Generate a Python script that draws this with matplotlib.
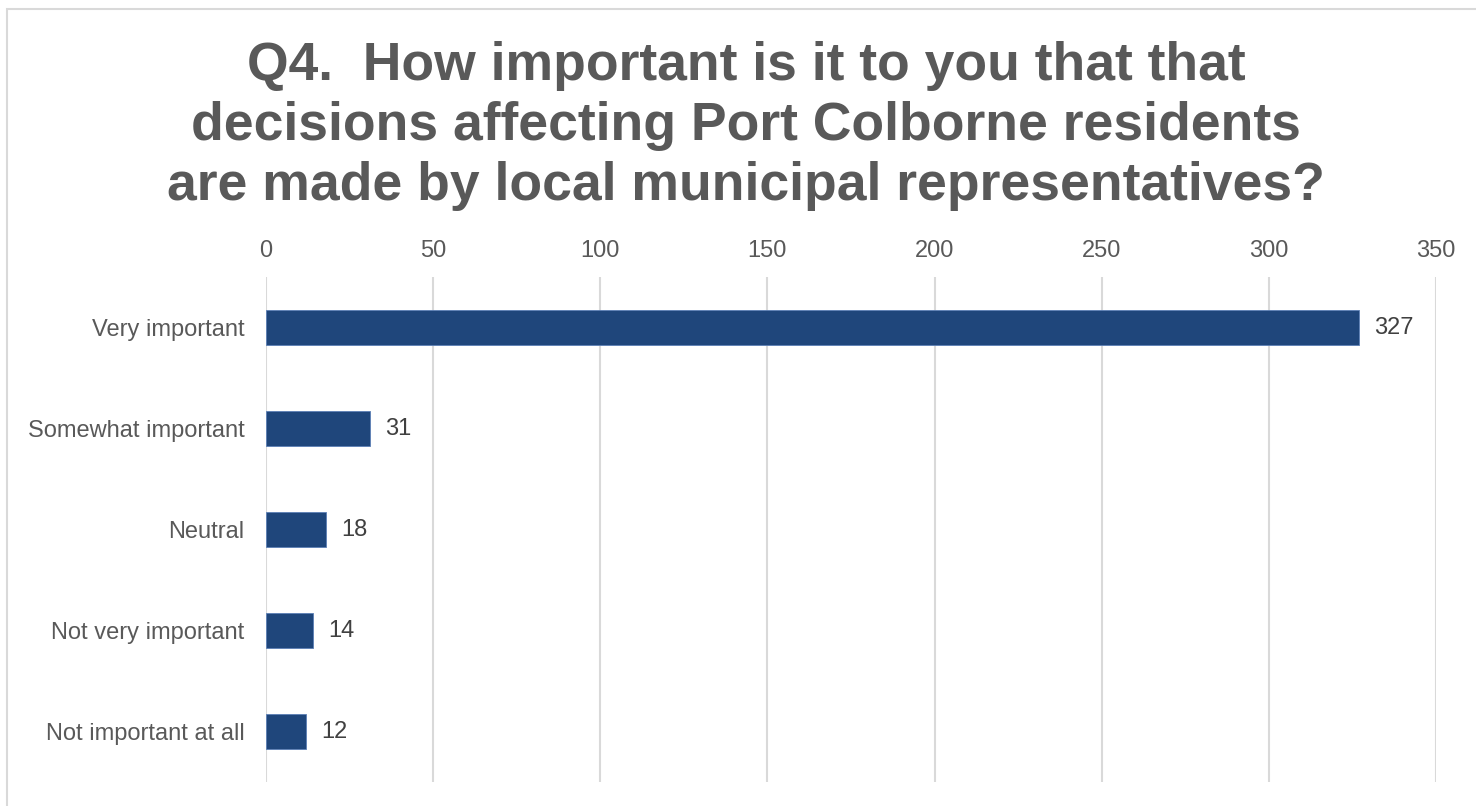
import matplotlib.pyplot as plt
from matplotlib.patches import Rectangle

categories = ["Very important", "Somewhat important", "Neutral",
              "Not very important", "Not important at all"]
counts = [327, 31, 18, 14, 12]
x_ticks = [0, 50, 100, 150, 200, 250, 300, 350]

plt.rcParams["font.family"] = ["Liberation Sans", "DejaVu Sans"]

W, H = 1476, 806
fig = plt.figure(figsize=(W / 100, H / 100), dpi=100)

# outer chart frame (only the left and top edges fall inside the canvas)
fig.patches.append(Rectangle((7 / W, -0.1), 1.2, 1 - 9 / H + 0.1,
                             transform=fig.transFigure, fill=False,
                             edgecolor="#d9d9d9", linewidth=1.5))

ax = fig.add_axes([266 / W, 1 - 782 / H, 1170 / W, 505 / H])

ypos = list(range(len(categories)))
ax.barh(ypos, counts, height=0.35, color="#1f467b",
        edgecolor="#5b7fb5", linewidth=0.6, zorder=3)
for y, v in zip(ypos, counts):
    ax.text(v + 4.5, y, str(v), va="center", ha="left",
            fontsize=17, color="#404040")

ax.set_xlim(0, 350)
ax.set_ylim(len(categories) - 0.5, -0.5)
ax.set_xticks(x_ticks)
ax.xaxis.tick_top()
ax.tick_params(axis="x", length=0, pad=11, labelsize=17, labelcolor="#595959")
ax.set_yticks(ypos)
ax.set_yticklabels(categories)
ax.tick_params(axis="y", length=0, pad=15.5, labelsize=17, labelcolor="#595959")
ax.grid(axis="x", color="#d9d9d9", linewidth=1.5, zorder=0)
for s in ax.spines.values():
    s.set_visible(False)

fig.text(746 / W, 1 - 126 / H,
         "Q4.  How important is it to you that that\n"
         "decisions affecting Port Colborne residents\n"
         "are made by local municipal representatives?",
         ha="center", va="center", fontsize=38.5, fontweight="bold",
         color="#595959", linespacing=1.25)

fig.savefig("out.png", dpi=100)
